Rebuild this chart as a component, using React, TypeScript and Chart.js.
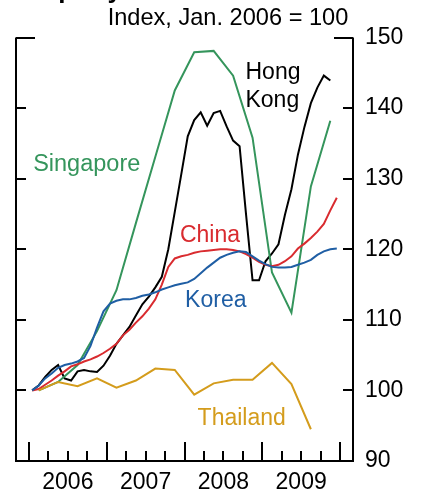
import { useEffect, useRef } from "react";
import { Chart, registerables } from "chart.js";

Chart.register(...registerables);

// Monthly series, Jan 2006 = first value
const hongKong = [100, 100.7, 101.9, 102.9, 103.6, 101.7, 101.4, 102.7, 102.9, 102.7, 102.6, 103.5, 104.9, 106.6, 107.8, 109.0, 110.6, 112.2, 113.3, 114.6, 116.1, 120.0, 125.3, 130.6, 136.0, 138.3, 139.4, 137.5, 139.3, 139.6, 137.4, 135.4, 134.6, 124.9, 115.6, 115.6, 118.3, 119.4, 120.7, 124.9, 128.5, 133.4, 137.3, 140.7, 142.9, 144.6, 143.9];
const china = [100, 100.2, 100.8, 101.4, 102.1, 102.7, 103.4, 103.7, 104.1, 104.4, 104.8, 105.3, 105.9, 106.6, 107.8, 108.6, 109.6, 110.5, 111.6, 112.9, 115.0, 117.5, 118.7, 119.0, 119.2, 119.5, 119.7, 119.8, 119.9, 120.0, 120.0, 119.9, 119.7, 119.3, 118.8, 118.2, 117.8, 117.6, 117.8, 118.3, 119.0, 120.1, 120.8, 121.6, 122.5, 123.6, 125.5, 127.3];
const korea = [100, 100.7, 101.7, 102.4, 103.2, 103.6, 103.8, 104.1, 104.6, 106.3, 108.9, 111.2, 112.3, 112.7, 112.9, 112.9, 113.1, 113.4, 113.6, 113.9, 114.3, 114.6, 114.9, 115.1, 115.3, 115.8, 116.6, 117.4, 118.1, 118.8, 119.2, 119.5, 119.7, 119.6, 119.0, 118.4, 117.9, 117.5, 117.4, 117.4, 117.5, 117.8, 118.1, 118.5, 119.2, 119.7, 120.0, 120.1];
// Quarterly series, 2006 Q1 = first value
const singapore = [100, 101.2, 103.6, 108.4, 114.2, 123.7, 133.1, 142.5, 147.9, 148.1, 144.6, 135.8, 116.7, 111.0, 128.9, 138.2];
const thailand = [100, 101.2, 100.6, 101.7, 100.4, 101.4, 103.1, 102.9, 99.4, 101.0, 101.5, 101.5, 103.9, 100.9, 94.5];

const yTicks = [90, 100, 110, 120, 130, 140, 150];
const yearLabels = ["2006", "2007", "2008", "2009"];
const yearStarts = [0, 12, 24, 36, 48]; // months since Jan 2006

const GREEN = "#35955c";
const RED = "#d92b2f";
const BLUE = "#1f5ea4";
const GOLD = "#d49c1c";
const FONT = "'Liberation Sans', Arial, Helvetica, sans-serif";

export default function App() {
  const ref = useRef<HTMLCanvasElement>(null);

  useEffect(() => {
    const monthly = (arr: number[]) => arr.map((v, i) => ({ x: i + 0.5, y: v }));
    const quarterly = (arr: number[]) => arr.map((v, i) => ({ x: 3 * i + 1.5, y: v }));

    const axesPlugin = {
      id: "axesPlugin",
      afterDatasetsDraw(chart: any) {
        const { ctx, chartArea, scales } = chart;
        const { left, right, top, bottom } = chartArea;
        const x = scales.x;
        const y = scales.y;
        ctx.save();
        ctx.strokeStyle = "#000";
        ctx.lineWidth = 2;
        ctx.lineCap = "butt";
        ctx.beginPath();
        ctx.moveTo(left, top);
        ctx.lineTo(left, bottom);
        ctx.lineTo(right, bottom);
        ctx.lineTo(right, top);
        ctx.stroke();
        ctx.beginPath();
        for (const v of yTicks) {
          if (v === 90) continue;
          const py = Math.round(y.getPixelForValue(v));
          const len = v === 150 ? 19 : 10;
          ctx.moveTo(left, py);
          ctx.lineTo(left + len, py);
          ctx.moveTo(right, py);
          ctx.lineTo(right - len, py);
        }
        for (let m = 0; m <= 48; m += 3) {
          const px = Math.round(x.getPixelForValue(m));
          const len = m % 12 === 0 ? 19 : 10;
          ctx.moveTo(px, bottom);
          ctx.lineTo(px, bottom - len);
        }
        ctx.stroke();

        const text = (s: string, mx: number, vy: number, color: string, align: CanvasTextAlign, font = `23px ${FONT}`) => {
          ctx.font = font;
          ctx.fillStyle = color;
          ctx.textAlign = align;
          ctx.textBaseline = "alphabetic";
          ctx.fillText(s, x.getPixelForValue(mx), y.getPixelForValue(vy));
        };
        text("Singapore", 8.91, 131.1, GREEN, "center", `23.5px ${FONT}`);
        text("Hong", 33.41, 144.08, "#000", "left");
        text("Kong", 33.41, 140.2, "#000", "left");
        text("China", 27.93, 121.07, RED, "center");
        text("Korea", 28.83, 111.86, BLUE, "center");
        text("Thailand", 32.83, 95.1, GOLD, "center");
        text("Index, Jan. 2006 = 100", 30.71, 151.77, "#000", "center", `23.6px ${FONT}`);
        ctx.restore();

        // cropped headline at the very top
        ctx.save();
        ctx.font = `bold 26px ${FONT}`;
        ctx.fillStyle = "#000";
        ctx.textAlign = "left";
        ctx.textBaseline = "alphabetic";
        ctx.fillText("Property Prices", 15, -2.5);
        ctx.restore();
      },
    };

    const ds = (label: string, data: any[], color: string) => ({
      label,
      data,
      borderColor: color,
      backgroundColor: color,
      borderWidth: 2,
      pointRadius: 0,
      tension: 0,
      fill: false,
    });

    const chart = new Chart(ref.current as HTMLCanvasElement, {
      type: "line",
      data: {
        datasets: [
          ds("Thailand", quarterly(thailand), GOLD),
          ds("Korea", monthly(korea), BLUE),
          ds("China", monthly(china), RED),
          ds("Singapore", quarterly(singapore), GREEN),
          ds("Hong Kong", monthly(hongKong), "#000"),
        ],
      },
      options: {
        responsive: false,
        animation: false,
        layout: { padding: { left: 16, top: 37.5, right: 0, bottom: 0 } },
        plugins: { legend: { display: false }, tooltip: { enabled: false }, title: { display: false } },
        scales: {
          x: {
            type: "linear",
            min: -2,
            max: 50,
            grid: { display: false, drawTicks: false, tickLength: 0 },
            border: { display: false },
            ticks: {
              autoSkip: false,
              maxRotation: 0,
              padding: 8,
              color: "#000",
              font: { size: 23, family: FONT },
              callback: (v: any) => yearLabels[Math.round((Number(v) - 6) / 12)] ?? "",
            },
            afterBuildTicks: (s: any) => {
              s.ticks = yearStarts.slice(0, 4).map((m) => ({ value: m + 6 }));
            },
            afterFit: (s: any) => {
              s.height = 36;
            },
          },
          y: {
            type: "linear",
            position: "right",
            min: 90,
            max: 150,
            grid: { display: false, drawTicks: false, tickLength: 0 },
            border: { display: false },
            ticks: {
              stepSize: 10,
              padding: 12,
              color: "#000",
              font: { size: 23, family: FONT },
            },
            afterBuildTicks: (s: any) => {
              s.ticks = yTicks.map((v) => ({ value: v }));
            },
            afterFit: (s: any) => {
              s.width = 69;
            },
          },
        },
      },
      plugins: [axesPlugin],
    });
    return () => chart.destroy();
  }, []);

  return (
    <div style={{ position: "fixed", left: 0, top: 0, width: 422, height: 497, background: "#fff" }}>
      <canvas ref={ref} width={422} height={497} style={{ display: "block", width: 422, height: 497 }} />
    </div>
  );
}
